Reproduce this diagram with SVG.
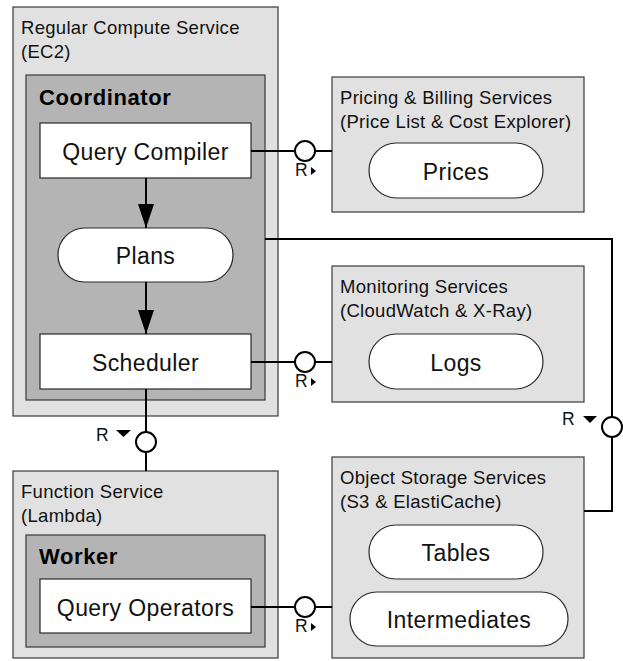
<svg xmlns="http://www.w3.org/2000/svg" width="623" height="661" viewBox="0 0 623 661">
<defs>
<style>
.svc{fill:#e1e1e1;stroke:#3a3a3a;stroke-width:1.2}
.cmp{fill:#b4b4b4;stroke:#3a3a3a;stroke-width:1.2}
.box{fill:#ffffff;stroke:#2a2a2a;stroke-width:1.2}
.t{font-family:"Liberation Sans",Arial,sans-serif;font-size:18.5px;letter-spacing:0.3px;fill:#111}
.b{font-family:"Liberation Sans",Arial,sans-serif;font-size:22px;font-weight:bold;letter-spacing:0.6px;fill:#000}
.n{font-family:"Liberation Sans",Arial,sans-serif;font-size:23px;letter-spacing:0.4px;fill:#111;text-anchor:middle}
.r{font-family:"Liberation Sans",Arial,sans-serif;font-size:17.5px;fill:#111}
.ln{fill:none;stroke:#000;stroke-width:2}
.ci{fill:#fff;stroke:#000;stroke-width:2}
</style>
<marker id="ah" viewBox="0 0 24 16" refX="24" refY="8" markerWidth="24" markerHeight="16" markerUnits="userSpaceOnUse" orient="auto">
<path d="M0,0 L24,8 L0,16 z" fill="#000"/>
</marker>
</defs>

<g id="ec2">
<rect class="svc" x="13" y="7" width="265" height="409"/>
<text class="t" x="21" y="34">Regular Compute Service</text>
<text class="t" x="21" y="58">(EC2)</text>
</g>
<g id="coordinator">
<rect class="cmp" x="26" y="75" width="239" height="325"/>
<text class="b" x="39" y="105">Coordinator</text>
</g>
<g id="query-compiler">
<rect class="box" x="40" y="123" width="211" height="55"/>
<text class="n" x="145.5" y="160">Query Compiler</text>
</g>
<g id="plans">
<rect class="box" x="58" y="228" width="175" height="54" rx="27" ry="27"/>
<text class="n" x="145.5" y="264">Plans</text>
</g>
<g id="scheduler">
<rect class="box" x="40" y="334" width="211" height="55"/>
<text class="n" x="145.5" y="371">Scheduler</text>
</g>

<g id="pricing">
<rect class="svc" x="332" y="77" width="252" height="135"/>
<text class="t" x="340" y="104">Pricing &amp; Billing Services</text>
<text class="t" x="340" y="128">(Price List &amp; Cost Explorer)</text>
</g>
<g id="prices">
<rect class="box" x="369" y="143" width="174" height="55" rx="27.5" ry="27.5"/>
<text class="n" x="456" y="180">Prices</text>
</g>

<g id="monitoring">
<rect class="svc" x="332" y="266" width="252" height="136"/>
<text class="t" x="340" y="293">Monitoring Services</text>
<text class="t" x="340" y="317">(CloudWatch &amp; X-Ray)</text>
</g>
<g id="logs">
<rect class="box" x="369" y="334" width="174" height="55" rx="27.5" ry="27.5"/>
<text class="n" x="456" y="371">Logs</text>
</g>

<g id="storage">
<rect class="svc" x="332" y="457" width="252" height="201"/>
<text class="t" x="340" y="484">Object Storage Services</text>
<text class="t" x="340" y="508">(S3 &amp; ElastiCache)</text>
</g>
<g id="tables">
<rect class="box" x="369" y="525" width="174" height="54" rx="27" ry="27"/>
<text class="n" x="456" y="561">Tables</text>
</g>
<g id="intermediates">
<rect class="box" x="350" y="592" width="218" height="54" rx="27" ry="27"/>
<text class="n" x="459" y="628">Intermediates</text>
</g>

<g id="lambda">
<rect class="svc" x="13" y="471" width="265" height="187"/>
<text class="t" x="21" y="498">Function Service</text>
<text class="t" x="21" y="522">(Lambda)</text>
</g>
<g id="worker">
<rect class="cmp" x="26" y="535" width="239" height="112"/>
<text class="b" x="39" y="564">Worker</text>
</g>
<g id="query-operators">
<rect class="box" x="40" y="579" width="211" height="54"/>
<text class="n" x="145.5" y="616">Query Operators</text>
</g>

<g id="connectors">
<line class="ln" x1="146" y1="178" x2="146" y2="228" marker-end="url(#ah)"/>
<line class="ln" x1="146" y1="282" x2="146" y2="334" marker-end="url(#ah)"/>

<line class="ln" x1="251" y1="151" x2="332" y2="151"/>
<circle class="ci" cx="305" cy="151" r="10"/>
<text class="r" x="295" y="176">R</text>
<path d="M311,167 L316,171 L311,175 z" fill="#000"/>

<line class="ln" x1="251" y1="362" x2="332" y2="362"/>
<circle class="ci" cx="305" cy="362" r="10"/>
<text class="r" x="295" y="387">R</text>
<path d="M311,378 L316,382 L311,386 z" fill="#000"/>

<line class="ln" x1="251" y1="607" x2="332" y2="607"/>
<circle class="ci" cx="305" cy="607" r="10"/>
<text class="r" x="295" y="632">R</text>
<path d="M311,623 L316,627 L311,631 z" fill="#000"/>

<line class="ln" x1="146" y1="389" x2="146" y2="471"/>
<circle class="ci" cx="146" cy="442" r="10"/>
<text class="r" x="96" y="441">R</text>
<path d="M116,430 L131,430 L123.5,437 z" fill="#000"/>

<path class="ln" d="M265,239 H612 V511 H584"/>
<circle class="ci" cx="612" cy="427" r="10"/>
<text class="r" x="562" y="425">R</text>
<path d="M583,416 L597,416 L590,423 z" fill="#000"/>
</g>
</svg>
